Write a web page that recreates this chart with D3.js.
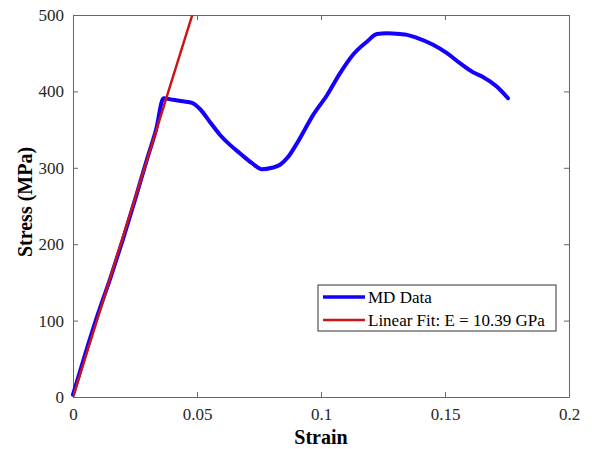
<!DOCTYPE html>
<html>
<head>
<meta charset="utf-8">
<script src="https://cdn.jsdelivr.net/npm/d3@7"></script>
<style>
  body { margin: 0; background: #fff; }
  svg text { font-family: "Liberation Serif", "Times New Roman", serif !important; }
</style>
</head>
<body>
<div id="chart"></div>
<script>
// MD stress-strain data
var mdStrain = [0, 0.005, 0.010, 0.015, 0.020, 0.025, 0.030, 0.0335, 0.0365,
  0.0403, 0.0444, 0.048, 0.0512, 0.0552, 0.0593, 0.0633, 0.0673, 0.0722, 0.0762,
  0.0802, 0.0835, 0.0867, 0.0903, 0.0968, 0.1024, 0.1077, 0.1129, 0.1185, 0.1226,
  0.1266, 0.1319, 0.1347, 0.1387, 0.1452, 0.1508, 0.1560, 0.1613, 0.1653, 0.1710, 0.1754];
var mdStress = [3, 57, 108, 155, 205, 258, 313, 350, 391,
  389, 387, 385, 377, 360, 343, 330, 319, 306, 298,
  300, 304, 314, 332, 369, 395, 424, 448, 465, 475,
  476, 475, 474, 470, 461, 450, 437, 425, 419, 406, 391];

// linear fit, E = 10.39 GPa
var fitStrain = [0, 0.0481];
var fitStress = [0, 500];

var xTicks = [0, 0.05, 0.1, 0.15, 0.2];
var yTicks = [0, 100, 200, 300, 400, 500];
var legendLabels = ["MD Data", "Linear Fit: E = 10.39 GPa"];
var legendColors = ["#1400ff", "#cc1414"];

var W = 592, H = 449;
var margin = {top: 15, right: 23, bottom: 52, left: 73},
    width = W - margin.left - margin.right,
    height = H - margin.top - margin.bottom;

var svg = d3.select("#chart").append("svg")
    .attr("width", W)
    .attr("height", H)
  .append("g")
    .attr("transform", "translate(" + margin.left + "," + margin.top + ")");

var x = d3.scaleLinear().domain([0, 0.2]).range([0, width]);
var y = d3.scaleLinear().domain([0, 500]).range([height, 0]);

var fmt = function(d) { return d === 0 ? "0" : String(d); };

var xAxis = d3.axisBottom(x).tickValues(xTicks).tickSizeInner(-5).tickSizeOuter(0).tickPadding(11).tickFormat(fmt);
var yAxis = d3.axisLeft(y).tickValues(yTicks).tickSizeInner(-5).tickSizeOuter(0).tickPadding(9);
var xTop = d3.axisTop(x).tickValues(xTicks).tickSizeInner(-5).tickSizeOuter(0).tickFormat("");
var yRight = d3.axisRight(y).tickValues(yTicks).tickSizeInner(-5).tickSizeOuter(0).tickFormat("");

function styleAxis(g) {
  g.attr("font-family", "'Liberation Serif', serif").attr("font-size", 17);
  g.select(".domain").attr("stroke", "#666").attr("stroke-width", 1);
  g.selectAll(".tick line").attr("stroke", "#666");
  g.selectAll(".tick text").attr("fill", "#262626");
}

svg.append("g").attr("transform", "translate(0," + height + ")").call(xAxis).call(styleAxis);
svg.append("g").call(yAxis).call(styleAxis);
svg.append("g").call(xTop).call(styleAxis);
svg.append("g").attr("transform", "translate(" + width + ",0)").call(yRight).call(styleAxis);

svg.append("clipPath").attr("id", "clip")
  .append("rect").attr("width", width).attr("height", height);

var line = d3.line()
    .x(function(d) { return x(d[0]); })
    .y(function(d) { return y(d[1]); });

var md = mdStrain.map(function(s, i) { return [s, mdStress[i]]; });
var fit = fitStrain.map(function(s, i) { return [s, fitStress[i]]; });

svg.append("path")
    .attr("d", line.curve(d3.curveMonotoneX)(md))
    .attr("fill", "none")
    .attr("stroke", legendColors[0])
    .attr("stroke-width", 4)
    .attr("stroke-linejoin", "round")
    .attr("stroke-linecap", "round");

svg.append("path")
    .attr("clip-path", "url(#clip)")
    .attr("d", line.curve(d3.curveLinear)(fit))
    .attr("fill", "none")
    .attr("stroke", legendColors[1])
    .attr("stroke-width", 2.5);

// axis labels
svg.append("text")
    .attr("x", width / 2)
    .attr("y", height + 47)
    .attr("text-anchor", "middle")
    .attr("font-weight", "bold")
    .attr("font-size", "20px")
    .attr("fill", "#000")
    .text("Strain");

svg.append("text")
    .attr("transform", "translate(" + (-41) + "," + (height / 2 - 4) + ") rotate(-90)")
    .attr("text-anchor", "middle")
    .attr("font-weight", "bold")
    .attr("font-size", "20px")
    .attr("fill", "#000")
    .text("Stress (MPa)");

// legend
var lg = svg.append("g").attr("transform", "translate(" + (318 - margin.left) + "," + (285 - margin.top) + ")");
lg.append("rect")
    .attr("width", 238).attr("height", 46)
    .attr("fill", "#fff").attr("stroke", "#333").attr("stroke-width", 1);
legendLabels.forEach(function(t, i) {
  var cy = 12 + i * 23;
  lg.append("line")
      .attr("x1", 5).attr("x2", 47).attr("y1", cy).attr("y2", cy)
      .attr("stroke", legendColors[i]).attr("stroke-width", i === 0 ? 3.5 : 2.5);
  lg.append("text")
      .attr("x", 50).attr("y", cy + 6)
      .attr("font-size", "17px").attr("fill", "#000")
      .text(t);
});
</script>
</body>
</html>
